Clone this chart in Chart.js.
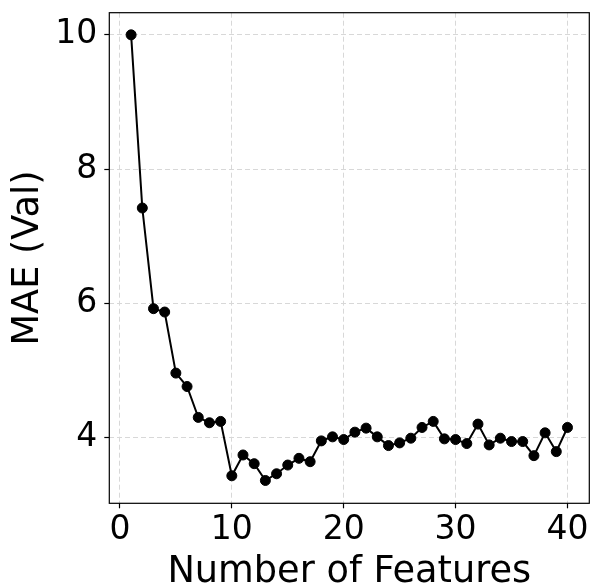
<!DOCTYPE html>
<html>
<head>
<meta charset="utf-8">
<script src="https://cdn.jsdelivr.net/npm/chart.js@4/dist/chart.umd.min.js"></script>
<style>
  html, body { margin: 0; padding: 0; background: #fff; }
</style>
</head>
<body>
<canvas id="maeChart" width="592" height="585"></canvas>
<script>
const features = [1, 2, 3, 4, 5, 6, 7, 8, 9, 10, 11, 12, 13, 14, 15, 16, 17, 18, 19, 20,
  21, 22, 23, 24, 25, 26, 27, 28, 29, 30, 31, 32, 33, 34, 35, 36, 37, 38, 39, 40];
const mae = [10.0, 7.42, 5.92, 5.87, 4.96, 4.76, 4.30, 4.22, 4.24, 3.43,
  3.74, 3.61, 3.36, 3.46, 3.59, 3.69, 3.64, 3.95, 4.01, 3.97,
  4.08, 4.14, 4.01, 3.88, 3.92, 3.99, 4.15, 4.24, 3.98, 3.97,
  3.91, 4.20, 3.89, 3.99, 3.94, 3.94, 3.73, 4.07, 3.79, 4.15];
const xTicks = [0, 10, 20, 30, 40];
const yTicks = [4, 6, 8, 10];

const points = features.map((f, i) => ({ x: f, y: mae[i] }));

// box round the plot area (matplotlib style)
const frame = {
  id: "frame",
  afterDraw(c) {
    const a = c.chartArea;
    const ctx = c.ctx;
    ctx.save();
    ctx.strokeStyle = "#000";
    ctx.lineWidth = 1.2;
    ctx.strokeRect(a.left, a.top, a.right - a.left, a.bottom - a.top);
    ctx.restore();
  }
};

const font = { family: "DejaVu Sans", size: 33 };
const titleFont = { family: "DejaVu Sans", size: 36.7 };
const gridStyle = {
  color: "#d8d8d8",
  lineWidth: 1,
  tickColor: "#000",
  tickWidth: 1.2,
  tickLength: 5,
  tickBorderDash: []
};
const borderStyle = { display: false, dash: [5, 3] };

new Chart(document.getElementById("maeChart"), {
  type: "line",
  data: {
    datasets: [{
      data: points,
      borderColor: "#000",
      backgroundColor: "#000",
      borderWidth: 2,
      pointRadius: 5,
      pointBorderWidth: 1,
      pointBackgroundColor: "#000",
      pointBorderColor: "#000",
      tension: 0,
      clip: false
    }]
  },
  options: {
    responsive: false,
    animation: false,
    layout: { autoPadding: false, padding: { top: 12.7, right: 2.7, left: 0, bottom: 0 } },
    plugins: { legend: { display: false }, tooltip: { enabled: false } },
    scales: {
      x: {
        type: "linear",
        min: -0.95,
        max: 41.95,
        afterBuildTicks: s => { s.ticks = xTicks.map(v => ({ value: v })); },
        afterFit: s => { s.height = 81.7; s.paddingLeft = 0; s.paddingRight = 0; },
        grid: gridStyle,
        border: borderStyle,
        ticks: { font: font, color: "#000", padding: 2, maxRotation: 0 },
        title: { display: true, text: "Number of Features", font: titleFont, color: "#000", padding: { top: 0, bottom: -9 } }
      },
      y: {
        min: 3.02,
        max: 10.33,
        afterBuildTicks: s => { s.ticks = yTicks.map(v => ({ value: v })); },
        afterFit: s => { s.width = 109.3; s.paddingTop = 0; s.paddingBottom = 0; },
        grid: gridStyle,
        border: borderStyle,
        ticks: { font: font, color: "#000", padding: 7 },
        title: { display: true, text: "MAE (Val)", font: titleFont, color: "#000", padding: { top: 6, bottom: 0 } }
      }
    }
  },
  plugins: [frame]
});
</script>
</body>
</html>
